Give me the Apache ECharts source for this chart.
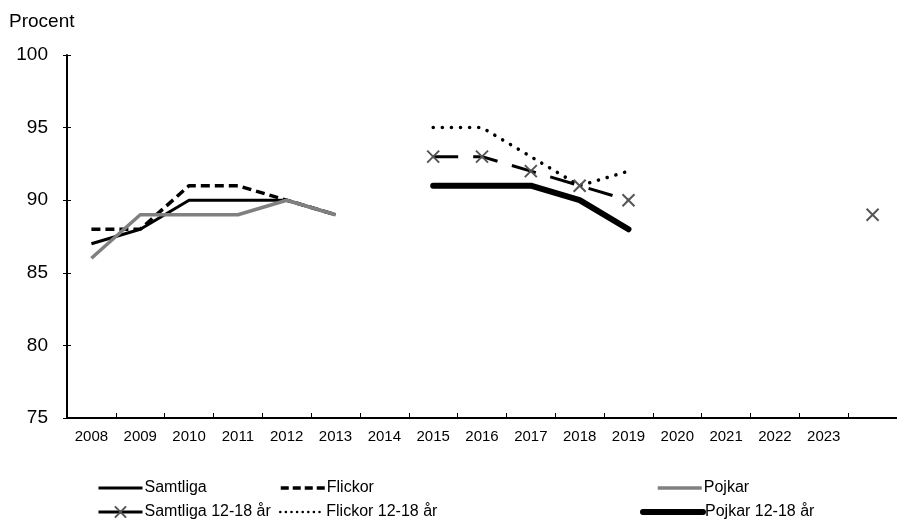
<!DOCTYPE html>
<html>
<head>
<meta charset="utf-8">
<script src="https://cdn.jsdelivr.net/npm/echarts@6/dist/echarts.min.js"></script>
<style>
  html, body { margin: 0; padding: 0; background: #fff; }
  #chart { width: 897px; height: 525px; }
</style>
</head>
<body>
<div id="chart"></div>
<script>
// years on the x axis (last slot has no label)
var years = ["2008", "2009", "2010", "2011", "2012", "2013", "2014", "2015",
  "2016", "2017", "2018", "2019", "2020", "2021", "2022", "2023", ""];

var samtliga = [87, 88, 90, 90, 90, 89, null, null, null, null, null, null, null, null, null, null, null];
var flickor = [88, 88, 91, 91, 90, 89, null, null, null, null, null, null, null, null, null, null, null];
var pojkar = [86, 89, 89, 89, 90, 89, null, null, null, null, null, null, null, null, null, null, null];
var samtliga1218 = [null, null, null, null, null, null, null, 93, 93, 92, 91, 90, null, null, null, null, 89];
var flickor1218 = [null, null, null, null, null, null, null, 95, 95, 93, 91, 92, null, null, null, null, null];
var pojkar1218 = [null, null, null, null, null, null, null, 91, 91, 91, 90, 88, null, null, null, null, null];

var yTicks = { min: 75, max: 100, interval: 5 };

var font = "Liberation Sans, Arial, sans-serif";
var xMark = "path://M0,0L10,10M10,0L0,10";

function legendAt(name, left, top, lineStyle, extra) {
  var l = {
    data: [name],
    left: left,
    top: top,
    padding: 0,
    itemWidth: 44,
    itemHeight: 14,
    itemGap: 0,
    selectedMode: false,
    itemStyle: { opacity: 0 },
    lineStyle: lineStyle,
    textStyle: { fontSize: 16, color: "#000", fontFamily: font, padding: [0, 0, 0, -3] }
  };
  if (extra) Object.assign(l, extra);
  return l;
}

var chart = echarts.init(document.getElementById("chart"));
var option = {
  animation: false,
  title: {
    text: "Procent",
    left: 4,
    top: 7,
    textStyle: { fontSize: 19, fontWeight: "normal", color: "#000", fontFamily: font }
  },
  grid: { left: 67, right: -9, top: 55, bottom: 107, containLabel: false },
  legend: [
    legendAt("Samtliga", 97, 480, { width: 3 }),
    legendAt("Flickor", 279, 480, { width: 3.5, type: [8, 4] }),
    legendAt("Pojkar", 656, 480, { width: 3.5 }),
    legendAt("Samtliga 12-18 år", 97, 504, { width: 3, type: "solid" }, { itemStyle: {} }),
    legendAt("Flickor 12-18 år", 279, 504, { width: 2.5, type: [0.1, 5.5], cap: "round" }),
    legendAt("Pojkar 12-18 år", 640, 504, { width: 6, cap: "round" }, { itemWidth: 60 })
  ],
  xAxis: {
    type: "category",
    data: years,
    boundaryGap: true,
    axisLine: { lineStyle: { color: "#000", width: 2 } },
    axisTick: { show: true, inside: true, length: 5, interval: 0, lineStyle: { color: "#000" } },
    axisLabel: { interval: 0, fontSize: 15, color: "#000", fontFamily: font, margin: 11 },
    splitLine: { show: false }
  },
  yAxis: [
    {
      type: "value",
      min: yTicks.min,
      max: yTicks.max,
      interval: yTicks.interval,
      axisLine: { show: true, lineStyle: { color: "#000", width: 2 } },
      axisTick: { show: true, length: 4, lineStyle: { color: "#000" } },
      axisLabel: { fontSize: 19, color: "#000", fontFamily: font, margin: 19 },
      splitLine: { show: false }
    },
    {
      // same scale, only to draw the inner half of the crossing ticks
      type: "value",
      position: "left",
      min: yTicks.min,
      max: yTicks.max,
      interval: yTicks.interval,
      axisLine: { show: false },
      axisTick: { show: true, inside: true, length: 4, lineStyle: { color: "#000" } },
      axisLabel: { show: false },
      splitLine: { show: false }
    }
  ],
  series: [
    {
      name: "Samtliga", type: "line", data: samtliga, symbol: "none",
      lineStyle: { color: "#000", width: 3 }, itemStyle: { color: "#000" }
    },
    {
      name: "Flickor", type: "line", data: flickor, symbol: "none",
      lineStyle: { color: "#000", width: 3.5, type: [9, 5] }, itemStyle: { color: "#000" }
    },
    {
      name: "Pojkar", type: "line", data: pojkar, symbol: "none",
      lineStyle: { color: "#808080", width: 3.5 }, itemStyle: { color: "#808080" }
    },
    {
      name: "Samtliga 12-18 år", type: "line", data: samtliga1218,
      symbol: xMark, symbolSize: 12, showSymbol: true,
      lineStyle: { color: "#000", width: 3, type: [25, 15] },
      itemStyle: { color: "#555", borderColor: "#555", borderWidth: 2 }
    },
    {
      name: "Flickor 12-18 år", type: "line", data: flickor1218, symbol: "none",
      lineStyle: { color: "#000", width: 3.5, type: [0.1, 9], cap: "round" },
      itemStyle: { color: "#000" }
    },
    {
      name: "Pojkar 12-18 år", type: "line", data: pojkar1218, symbol: "none",
      lineStyle: { color: "#000", width: 6, cap: "round" }, itemStyle: { color: "#000" }
    }
  ]
};
chart.setOption(option);
</script>
</body>
</html>
